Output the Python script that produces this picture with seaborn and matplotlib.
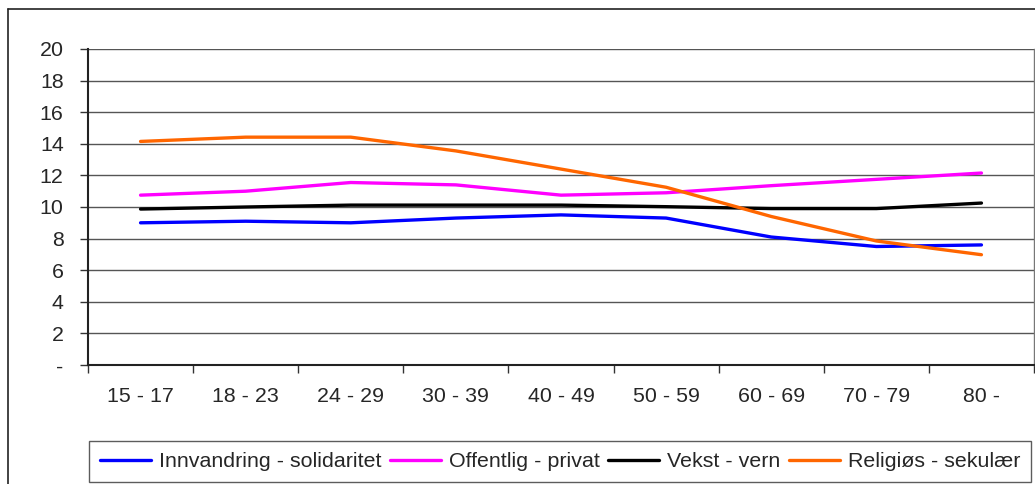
import numpy as np
import pandas as pd
import matplotlib.pyplot as plt
from matplotlib.lines import Line2D
import seaborn as sns

ages = ['15 - 17', '18 - 23', '24 - 29', '30 - 39', '40 - 49',
        '50 - 59', '60 - 69', '70 - 79', '80 -']
innvandring = [9.0, 9.1, 9.0, 9.3, 9.5, 9.3, 8.1, 7.5, 7.6]
offentlig = [10.75, 11.0, 11.55, 11.4, 10.75, 10.9, 11.35, 11.75, 12.15]
vekst = [9.87, 10.0, 10.12, 10.12, 10.12, 10.02, 9.9, 9.9, 10.25]
religios = [14.15, 14.42, 14.42, 13.55, 12.4, 11.25, 9.4, 7.85, 6.98]

series = ['Innvandring - solidaritet', 'Offentlig - privat', 'Vekst - vern', 'Religiøs - sekulær']
colors = ['#0000FF', '#FF00FF', '#000000', '#FF6600']

df = pd.DataFrame({'age': ages * 4,
                   'value': innvandring + offentlig + vekst + religios,
                   'serie': np.repeat(series, len(ages))})

sns.set_style('white')
plt.rcParams['font.family'] = ['Liberation Sans', 'DejaVu Sans']

fig = plt.figure(figsize=(10.35, 4.84), dpi=100)
ax = fig.add_axes([88/1035, 119/484, (1034-88)/1035, (365-49)/484])

sns.lineplot(data=df, x='age', y='value', hue='serie', palette=colors,
             hue_order=series, linewidth=2.4, ax=ax, sort=False)

ax.set_xlim(-0.5, len(ages) - 0.5)
ax.set_ylim(0, 20)
ax.set_xlabel('')
ax.set_ylabel('')

yt = np.arange(0, 21, 2)
ax.set_yticks(yt)
ax.set_yticklabels(['-'] + [str(v) for v in yt[1:]], fontsize=15.4)
ax.yaxis.grid(True, color='#555555', linewidth=1)
ax.set_axisbelow(True)
ax.tick_params(axis='y', length=6, width=1, color='#333333', pad=11.5, left=True)

ax.set_xticks(range(len(ages)))
ax.set_xticklabels(ages, fontsize=15.4)
ax.set_xticks(np.arange(-0.5, len(ages), 1), minor=True)
ax.tick_params(axis='x', which='major', length=0, pad=16)
ax.tick_params(axis='x', which='minor', length=6, width=1, color='#333333', bottom=True)

for side in ['left', 'bottom']:
    ax.spines[side].set_color('#222222')
    ax.spines[side].set_linewidth(1.5)
ax.spines['top'].set_visible(False)
ax.spines['right'].set_color('#777777')
ax.spines['right'].set_linewidth(1)

handles, labels = ax.get_legend_handles_labels()
ax.get_legend().remove()
leg = fig.legend(handles, labels, loc='center', bbox_to_anchor=(560/1035, 1 - 461.5/484),
                 ncol=4, fontsize=15.4, frameon=True, fancybox=False,
                 handlelength=2.4, handletextpad=0.35, columnspacing=0.4,
                 borderpad=0.5, borderaxespad=0)
leg.get_frame().set_edgecolor('#333333')
leg.get_frame().set_linewidth(1)
for h in leg.get_lines():
    h.set_linewidth(2.4)

# outer chart frame (left and top edges visible)
fig.add_artist(Line2D([8/1035, 8/1035], [0, 1 - 9/484], color='#222222', lw=1.2,
                      transform=fig.transFigure))
fig.add_artist(Line2D([8/1035, 1], [1 - 9/484, 1 - 9/484], color='#222222', lw=1.2,
                      transform=fig.transFigure))

fig.savefig('out.png', dpi=100)
